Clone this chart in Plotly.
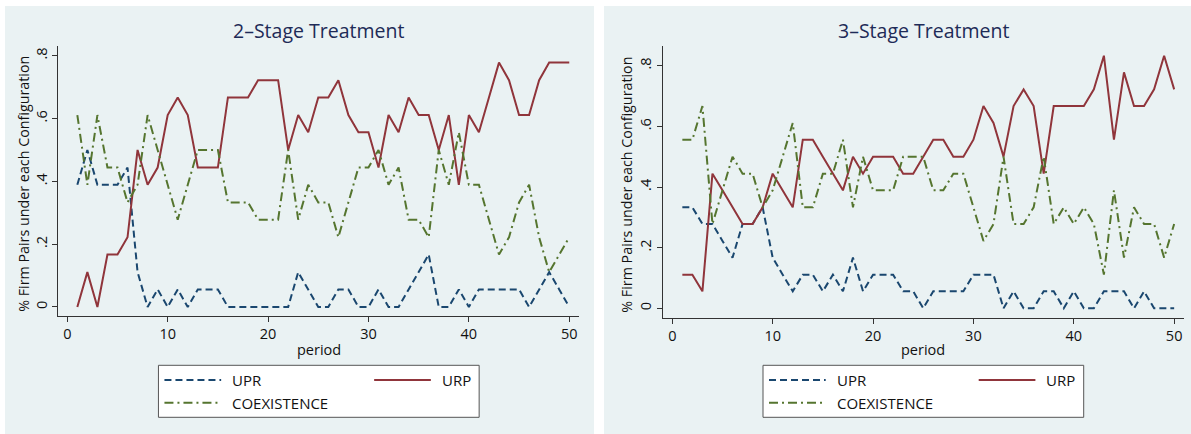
import plotly.graph_objects as go

W, H = 1191, 434

periods = list(range(1, 51))

# 2-Stage Treatment
upr_2 = [0.389, 0.5, 0.389, 0.389, 0.389, 0.444, 0.111, 0, 0.056, 0,
         0.056, 0, 0.056, 0.056, 0.056, 0, 0, 0, 0, 0,
         0, 0, 0.111, 0.056, 0, 0, 0.056, 0.056, 0, 0,
         0.056, 0, 0, 0.056, 0.111, 0.167, 0, 0, 0.056, 0,
         0.056, 0.056, 0.056, 0.056, 0.056, 0, 0.056, 0.111, 0.056, 0]
urp_2 = [0, 0.111, 0, 0.167, 0.167, 0.222, 0.5, 0.389, 0.444, 0.611,
         0.667, 0.611, 0.444, 0.444, 0.444, 0.667, 0.667, 0.667, 0.722, 0.722,
         0.722, 0.5, 0.611, 0.556, 0.667, 0.667, 0.722, 0.611, 0.556, 0.556,
         0.444, 0.611, 0.556, 0.667, 0.611, 0.611, 0.5, 0.611, 0.389, 0.611,
         0.556, 0.667, 0.778, 0.722, 0.611, 0.611, 0.722, 0.778, 0.778, 0.778]
coex_2 = [0.611, 0.389, 0.611, 0.444, 0.444, 0.333, 0.389, 0.611, 0.5, 0.389,
          0.278, 0.389, 0.5, 0.5, 0.5, 0.333, 0.333, 0.333, 0.278, 0.278,
          0.278, 0.5, 0.278, 0.389, 0.333, 0.333, 0.222, 0.333, 0.444, 0.444,
          0.5, 0.389, 0.444, 0.278, 0.278, 0.222, 0.5, 0.389, 0.556, 0.389,
          0.389, 0.278, 0.167, 0.222, 0.333, 0.389, 0.222, 0.111, 0.167, 0.222]

# 3-Stage Treatment
upr_3 = [0.333, 0.333, 0.278, 0.278, 0.222, 0.167, 0.278, 0.278, 0.333, 0.167,
         0.111, 0.056, 0.111, 0.111, 0.056, 0.111, 0.056, 0.167, 0.056, 0.111,
         0.111, 0.111, 0.056, 0.056, 0, 0.056, 0.056, 0.056, 0.056, 0.111,
         0.111, 0.111, 0, 0.056, 0, 0, 0.056, 0.056, 0, 0.056,
         0, 0, 0.056, 0.056, 0.056, 0, 0.056, 0, 0, 0]
urp_3 = [0.111, 0.111, 0.056, 0.444, 0.389, 0.333, 0.278, 0.278, 0.333, 0.444,
         0.389, 0.333, 0.556, 0.556, 0.5, 0.444, 0.389, 0.5, 0.444, 0.5,
         0.5, 0.5, 0.444, 0.444, 0.5, 0.556, 0.556, 0.5, 0.5, 0.556,
         0.667, 0.611, 0.5, 0.667, 0.722, 0.667, 0.444, 0.667, 0.667, 0.667,
         0.667, 0.722, 0.833, 0.556, 0.778, 0.667, 0.667, 0.722, 0.833, 0.722]
coex_3 = [0.556, 0.556, 0.667, 0.278, 0.389, 0.5, 0.444, 0.444, 0.333, 0.389,
          0.5, 0.611, 0.333, 0.333, 0.444, 0.444, 0.556, 0.333, 0.5, 0.389,
          0.389, 0.389, 0.5, 0.5, 0.5, 0.389, 0.389, 0.444, 0.444, 0.333,
          0.222, 0.278, 0.5, 0.278, 0.278, 0.333, 0.5, 0.278, 0.333, 0.278,
          0.333, 0.278, 0.111, 0.389, 0.167, 0.333, 0.278, 0.278, 0.167, 0.278]

series_names = ["UPR", "URP", "COEXISTENCE"]
titles = ["2\u2013Stage Treatment", "3\u2013Stage Treatment"]
y_tickvals = [0, 0.2, 0.4, 0.6, 0.8]
y_ticktext = ["0", ".2", ".4", ".6", ".8"]
x_tickvals = [0, 10, 20, 30, 40, 50]

colors = {"UPR": "#1a476f", "URP": "#90353b", "COEXISTENCE": "#55752f"}
dashes = {"UPR": "7px,4px", "URP": "solid", "COEXISTENCE": "9px,4px,2px,4px"}

FONT = "Open Sans"
BG = "#eaf2f3"

def px_x(v):
    return v / W

def px_y(v):
    return 1 - v / H

fig = go.Figure()

panels = [
    dict(data=[upr_2, urp_2, coex_2], xa="x", ya="y",
         plot=(58.3, 579.3, 45.7, 316.0), xr=[-0.896, 51.0], yr=[-0.0287, 0.8318],
         bg=(5, 594), ytitle_x=24),
    dict(data=[upr_3, urp_3, coex_3], xa="x2", ya="y2",
         plot=(662.7, 1184.0, 45.7, 317.7), xr=[-0.957, 50.98], yr=[-0.031, 0.866],
         bg=(604, 1191), ytitle_x=627),
]

shapes = []
annotations = []

for i, p in enumerate(panels):
    for name, vals in zip(series_names, p["data"]):
        fig.add_trace(go.Scatter(
            x=periods, y=vals, mode="lines", name=name,
            xaxis=p["xa"], yaxis=p["ya"], showlegend=False,
            line=dict(color=colors[name], width=2, dash=dashes[name]),
        ))
    x0, x1, y0, y1 = p["plot"]
    sfx = "" if i == 0 else "2"
    fig.layout["xaxis" + sfx] = dict(
        domain=[px_x(x0), px_x(x1)], range=p["xr"], anchor="y" + sfx,
        tickvals=x_tickvals, ticks="outside", ticklen=5, tickcolor="#333",
        showline=True, linecolor="#333", linewidth=1, showgrid=False,
        zeroline=False, tickfont=dict(family=FONT, size=14.5, color="#111"),
    )
    fig.layout["yaxis" + sfx] = dict(
        domain=[px_y(y1), px_y(y0)], range=p["yr"], anchor="x" + sfx,
        tickvals=y_tickvals, ticktext=y_ticktext, tickangle=-90,
        ticks="outside", ticklen=5, tickcolor="#333",
        showline=True, linecolor="#333", linewidth=1,
        showgrid=True, gridcolor=BG, gridwidth=1.2,
        zeroline=False, tickfont=dict(family=FONT, size=14.5, color="#111"),
    )
    # panel background
    bx0, bx1 = p["bg"]
    shapes.append(dict(type="rect", xref="paper", yref="paper", layer="below",
                       x0=px_x(bx0), x1=px_x(bx1), y0=0, y1=px_y(6),
                       fillcolor=BG, line=dict(width=0)))
    cx = (x0 + x1) / 2
    # title
    annotations.append(dict(text=titles[i], xref="paper", yref="paper",
                            x=px_x(cx), y=px_y(30), showarrow=False,
                            xanchor="center", yanchor="middle",
                            font=dict(family=FONT, size=19.5, color="#1e2b57")))
    # axis titles
    annotations.append(dict(text="period", xref="paper", yref="paper",
                            x=px_x(cx), y=px_y(349), showarrow=False,
                            xanchor="center", yanchor="middle",
                            font=dict(family=FONT, size=14.5, color="#111")))
    annotations.append(dict(text="% Firm Pairs under each Configuration",
                            xref="paper", yref="paper", textangle=-90,
                            x=px_x(p["ytitle_x"]), y=px_y((y0 + y1) / 2 + 3),
                            showarrow=False, xanchor="center", yanchor="middle",
                            font=dict(family=FONT, size=14.3, color="#111")))
    # legend (drawn as a key box)
    L = cx - 160.35
    R = cx + 160.35
    T, B = 365.3, 417.3
    shapes.append(dict(type="rect", xref="paper", yref="paper",
                       x0=px_x(L), x1=px_x(R), y0=px_y(B), y1=px_y(T),
                       fillcolor="white", line=dict(color="#555", width=1)))
    items = [("UPR", L + 6, 380), ("URP", L + 215.7, 380), ("COEXISTENCE", L + 6, 402.7)]
    for name, sx, sy in items:
        shapes.append(dict(type="line", xref="paper", yref="paper",
                           x0=px_x(sx), x1=px_x(sx + 56.7), y0=px_y(sy), y1=px_y(sy),
                           line=dict(color=colors[name], width=2, dash=dashes[name])))
        annotations.append(dict(text=name, xref="paper", yref="paper",
                                x=px_x(sx + 65.7), y=px_y(sy), showarrow=False,
                                xanchor="left", yanchor="middle",
                                font=dict(family=FONT, size=15, color="#111")))

fig.update_layout(
    width=W, height=H, margin=dict(l=0, r=0, t=0, b=0),
    paper_bgcolor="white", plot_bgcolor="white",
    shapes=shapes, annotations=annotations, showlegend=False,
)

fig.write_html("out.html", config={"displayModeBar": False},
               post_script="document.body.style.margin='0px';")
